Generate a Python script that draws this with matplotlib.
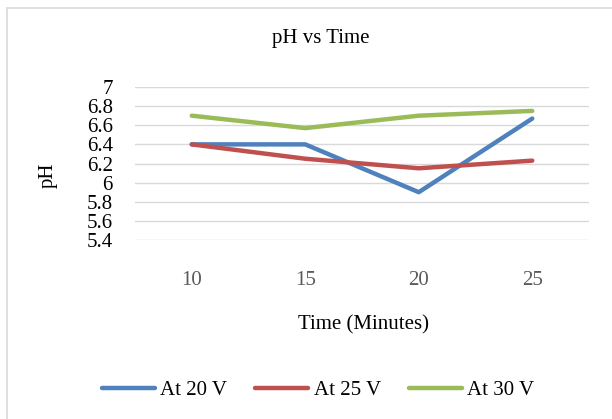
import matplotlib.pyplot as plt
from matplotlib.patches import Rectangle

plt.rcParams['font.family'] = ['Liberation Serif', 'DejaVu Serif']

times = ['10', '15', '20', '25']
ph_20v = [6.4, 6.4, 5.9, 6.67]
ph_25v = [6.4, 6.25, 6.15, 6.23]
ph_30v = [6.7, 6.57, 6.7, 6.75]
y_ticks = [5.4, 5.6, 5.8, 6, 6.2, 6.4, 6.6, 6.8, 7]
y_labels = ['5.4', '5.6', '5.8', '6', '6.2', '6.4', '6.6', '6.8', '7']

W, H = 612, 419


def main():
    fig = plt.figure(figsize=(W / 100, H / 100), dpi=100)
    fig.patches.append(Rectangle((7 / W, -0.1), 1.1, 1 - 8 / H + 0.1, transform=fig.transFigure,
                                 fill=False, edgecolor='#D9D9D9', linewidth=1.2))

    ax = fig.add_axes([135 / W, 1 - 240 / H, 454 / W, 153 / H])
    x = list(range(len(times)))
    ax.plot(x, ph_20v, color='#4F81BD', linewidth=3.2, label='At 20 V', solid_capstyle='round', zorder=3)
    ax.plot(x, ph_25v, color='#C0504D', linewidth=3.2, label='At 25 V', solid_capstyle='round', zorder=3)
    ax.plot(x, ph_30v, color='#9BBB59', linewidth=3.2, label='At 30 V', solid_capstyle='round', zorder=3)

    ax.set_xlim(-0.5, 3.5)
    ax.set_ylim(5.4, 7)
    ax.set_xticks(x)
    ax.set_xticklabels(times, fontsize=15, color='#595959')
    ax.set_yticks(y_ticks)
    ax.set_yticklabels(y_labels, fontsize=15)
    ax.tick_params(axis='x', length=0, pad=22)
    ax.tick_params(axis='y', length=0, pad=16)
    ax.grid(axis='y', color='#D9D9D9', linewidth=1)
    for s in ax.spines.values():
        s.set_visible(False)

    fig.text(321 / W, 1 - 38 / H, 'pH vs Time', fontsize=15, ha='center', va='center')
    fig.text(48 / W, 1 - 175 / H, 'pH', fontsize=15, rotation=90, ha='center', va='center')
    fig.text(363 / W, 1 - 325 / H, 'Time (Minutes)', fontsize=15, ha='center', va='center')

    fig.legend(loc='center', bbox_to_anchor=(318 / W, 1 - 390 / H), ncol=3, frameon=False,
               fontsize=15, handlelength=2.55, handletextpad=0.25, columnspacing=1.35)

    plt.savefig('out.png', dpi=100)


if __name__ == '__main__':
    main()
